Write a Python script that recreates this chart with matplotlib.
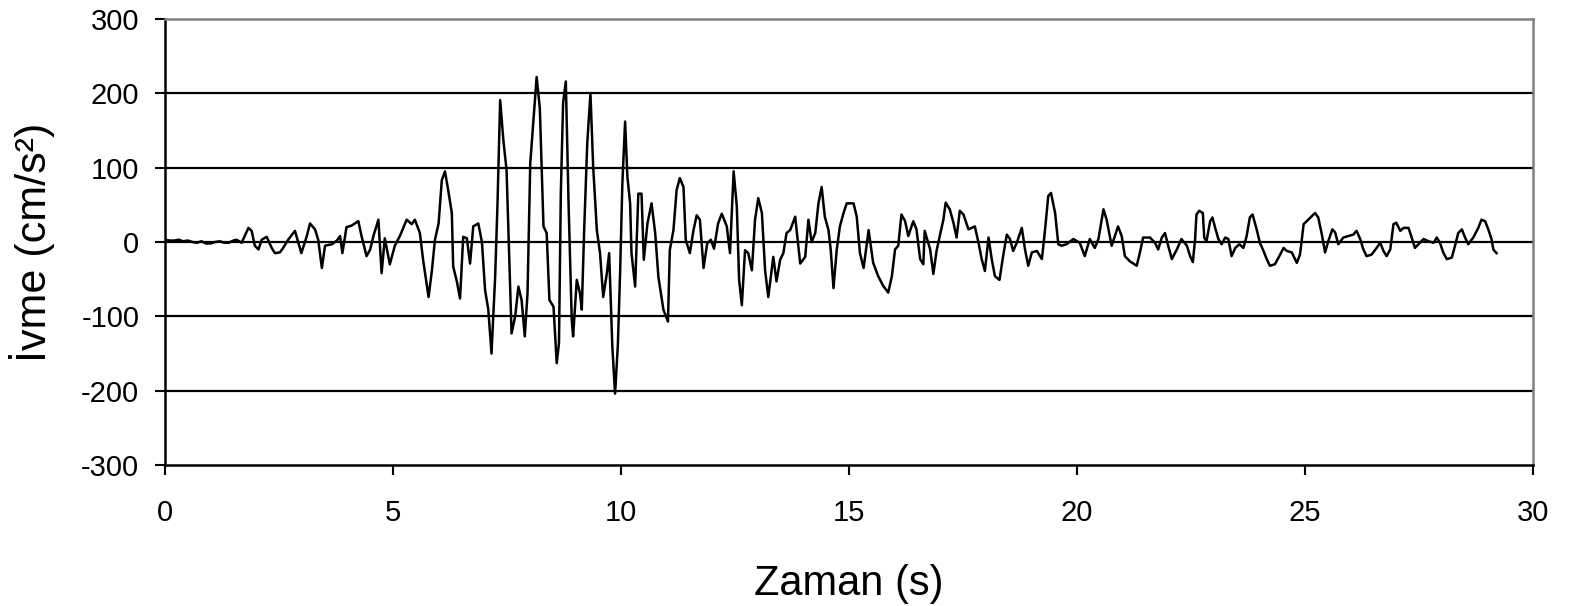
import matplotlib
matplotlib.use("Agg")
import matplotlib.pyplot as plt

plt.rcParams['font.family'] = ['Liberation Sans', 'DejaVu Sans']

time_s = [0.00, 0.10, 0.20, 0.30, 0.40, 0.50, 0.60, 0.70, 0.80, 0.90, 1.00, 1.10, 1.20, 1.30, 1.40, 1.50,
          1.57, 1.68, 1.83, 1.90, 1.97, 2.05, 2.12, 2.23, 2.34, 2.41, 2.52, 2.59, 2.70, 2.85, 2.92, 2.99,
          3.11, 3.18, 3.29, 3.36, 3.44, 3.51, 3.66, 3.77, 3.84, 3.89, 3.98, 4.09, 4.24, 4.31, 4.42, 4.50,
          4.57, 4.68, 4.75, 4.82, 4.93, 5.04, 5.15, 5.30, 5.41, 5.48, 5.59,
          5.66, 5.78, 5.85, 5.92, 6.00, 6.07, 6.14, 6.21, 6.29, 6.32, 6.40, 6.47, 6.54, 6.62, 6.69, 6.76,
          6.87, 6.95, 7.02, 7.09, 7.16, 7.24, 7.29, 7.35, 7.42, 7.49, 7.55, 7.60, 7.68, 7.75, 7.82, 7.89,
          7.95, 8.01, 8.08, 8.15, 8.22, 8.30, 8.37, 8.43, 8.52, 8.59, 8.64, 8.68, 8.73, 8.79, 8.85, 8.92,
          8.95, 9.03, 9.10, 9.14, 9.19, 9.26, 9.33, 9.39, 9.47, 9.54, 9.61, 9.69, 9.74, 9.81, 9.87, 9.93,
          9.98, 10.03, 10.09, 10.14, 10.20,
          10.23, 10.31, 10.38, 10.45, 10.50, 10.58, 10.67, 10.75, 10.82, 10.93, 11.03, 11.07, 11.15, 11.22,
          11.29, 11.37, 11.42, 11.51, 11.59, 11.66, 11.73, 11.81, 11.89, 11.97, 12.04, 12.13, 12.21, 12.32,
          12.39, 12.47, 12.54, 12.59, 12.65, 12.72, 12.79, 12.87, 12.94, 13.01, 13.09, 13.16, 13.23, 13.34,
          13.41, 13.49, 13.56, 13.63, 13.71, 13.82, 13.93, 14.04, 14.11, 14.18, 14.26, 14.33, 14.40, 14.47,
          14.55, 14.60, 14.66, 14.73, 14.80, 14.88, 14.95, 15.10, 15.17, 15.24, 15.32, 15.43,
          15.53, 15.64, 15.75, 15.86, 15.94, 16.01, 16.08, 16.15, 16.23, 16.30, 16.41, 16.48, 16.56, 16.63,
          16.66, 16.78, 16.85, 16.92, 16.99, 17.07, 17.12, 17.21, 17.29, 17.36, 17.43, 17.51, 17.62, 17.76,
          17.84, 17.91, 17.98, 18.06, 18.13, 18.20, 18.30, 18.38, 18.46, 18.53, 18.60, 18.68, 18.79, 18.86,
          18.93, 19.01, 19.12, 19.23, 19.30, 19.37, 19.43, 19.52, 19.59, 19.66, 19.77, 19.92, 20.06, 20.17,
          20.28, 20.39, 20.47, 20.58, 20.65, 20.76, 20.83, 20.90, 20.98, 21.05, 21.16, 21.31, 21.38, 21.45,
          21.60, 21.71, 21.78, 21.86, 21.93, 22.00, 22.08, 22.19, 22.29, 22.41,
          22.48, 22.54, 22.59, 22.62, 22.68, 22.76, 22.79, 22.84, 22.92, 22.97, 23.03, 23.10, 23.17, 23.25,
          23.32, 23.39, 23.47, 23.56, 23.65, 23.72, 23.79, 23.85, 23.94, 24.01, 24.09, 24.16, 24.23, 24.34,
          24.42, 24.53, 24.60, 24.71, 24.82, 24.89, 24.97, 25.07, 25.22, 25.29, 25.37, 25.44, 25.51, 25.60,
          25.66, 25.73, 25.84, 25.95, 26.06, 26.13, 26.21, 26.28, 26.35, 26.46, 26.57, 26.65, 26.72, 26.79,
          26.87, 26.94, 27.00, 27.09, 27.16, 27.27, 27.34, 27.41, 27.49, 27.60, 27.71, 27.82, 27.89, 27.96,
          28.03, 28.11, 28.22, 28.29, 28.36, 28.44, 28.51, 28.58, 28.69, 28.80, 28.87, 28.95, 29.02, 29.09,
          29.13, 29.20]

accel = [3, 2, 2, 3, 1, 2, 0, -1, 1, -2, -2, 0, 1, -1, -1, 2,
         3, -1, 19, 15, -5, -10, 3, 7, -8, -15, -14, -8, 3, 15, 0, -15,
         8, 25, 17, 3, -35, -5, -3, 2, 8, -15, 20, 22, 28, 8, -19, -10,
         8, 30, -42, 5, -30, -5, 8, 30, 24, 30, 12,
         -24, -74, -40, 3, 25, 83, 95, 70, 39, -33, -53, -76, 7, 5, -29, 21,
         25, 0, -65, -91, -150, -47, 48, 191, 137, 97, -24, -123, -100, -60, -78, -127,
         -69, 106, 164, 222, 180, 21, 12, -78, -87, -163, -136, 65, 187, 216, 52, -105,
         -127, -51, -69, -91, 12, 133, 200, 101, 16, -15, -74, -42, -15, -141, -204, -140,
         -42, 79, 162, 88, 52,
         -15, -60, 65, 65, -24, 25, 52, 12, -47, -91, -107, -11, 16, 70,
         86, 74, 3, -15, 16, 36, 30, -35, -2, 3, -9, 25, 38, 21,
         -15, 95, 48, -51, -85, -11, -15, -38, 30, 59, 39, -38, -74, -20,
         -53, -24, -15, 12, 16, 34, -29, -20, 30, 0, 12, 52, 74, 34,
         16, -11, -62, -11, 21, 39, 52, 52, 34, -15, -35, 16,
         -28, -46, -59, -68, -46, -10, -5, 37, 28, 8, 28, 17, -23, -30,
         15, -10, -43, -12, 8, 30, 53, 44, 26, 6, 42, 37, 17, 21,
         -1, -23, -39, 6, -23, -46, -51, -19, 10, 4, -12, -1, 19, -10,
         -32, -14, -12, -23, 17, 62, 66, 39, -3, -5, -3, 4, -1, -19,
         4, -8, 4, 44, 30, -5, 8, 21, 8, -19, -26, -32, -14, 6,
         6, -1, -10, 6, 12, -5, -23, -10, 4, -5,
         -19, -27, 4, 37, 42, 39, 6, 1, 28, 33, 19, 4, -3, 6,
         4, -19, -8, -3, -8, 8, 33, 37, 17, -1, -12, -23, -32, -30,
         -21, -8, -12, -14, -28, -17, 24, 30, 39, 33, 10, -14, 1, 17,
         13, -3, 6, 8, 10, 15, 4, -10, -19, -17, -8, -1, -12, -19,
         -10, 24, 26, 15, 19, 19, 6, -8, -3, 4, 1, -1, 6, -1,
         -14, -23, -21, -5, 12, 17, 6, -3, 6, 19, 30, 28, 17, 4,
         -10, -15]

y_ticks = [-300, -200, -100, 0, 100, 200, 300]
x_ticks = [0, 5, 10, 15, 20, 25, 30]

fig = plt.figure(figsize=(15.74, 6.06), dpi=100)
ax = fig.add_axes([165/1574, 1 - 465/606, 1368/1574, 446/606])

for g in [-200, -100, 0, 100, 200]:
    ax.axhline(g, color='black', linewidth=1.6, zorder=1)

ax.plot(time_s, accel, color='black', linewidth=1.8, zorder=3)

ax.set_xlim(0, 30)
ax.set_ylim(-300, 300)
ax.set_xticks(x_ticks)
ax.set_yticks(y_ticks)
ax.set_xticklabels([str(v) for v in x_ticks])
ax.set_yticklabels([str(v) for v in y_ticks])
ax.tick_params(axis='both', direction='out', length=7.5, width=1.5, labelsize=21, color='black')
ax.tick_params(axis='y', pad=11)
ax.tick_params(axis='x', pad=17)

for s in ['left', 'bottom']:
    ax.spines[s].set_color('black')
    ax.spines[s].set_linewidth(1.8)
for s in ['top', 'right']:
    ax.spines[s].set_color('#808080')
    ax.spines[s].set_linewidth(1.8)

ax.set_xlabel('Zaman (s)', fontsize=30)
ax.set_ylabel('İvme (cm/s²)', fontsize=31)
ax.xaxis.set_label_coords(0.5, -0.222)
ax.yaxis.set_label_coords(-0.0804, 0.5)

fig.savefig('out.png', dpi=100)
